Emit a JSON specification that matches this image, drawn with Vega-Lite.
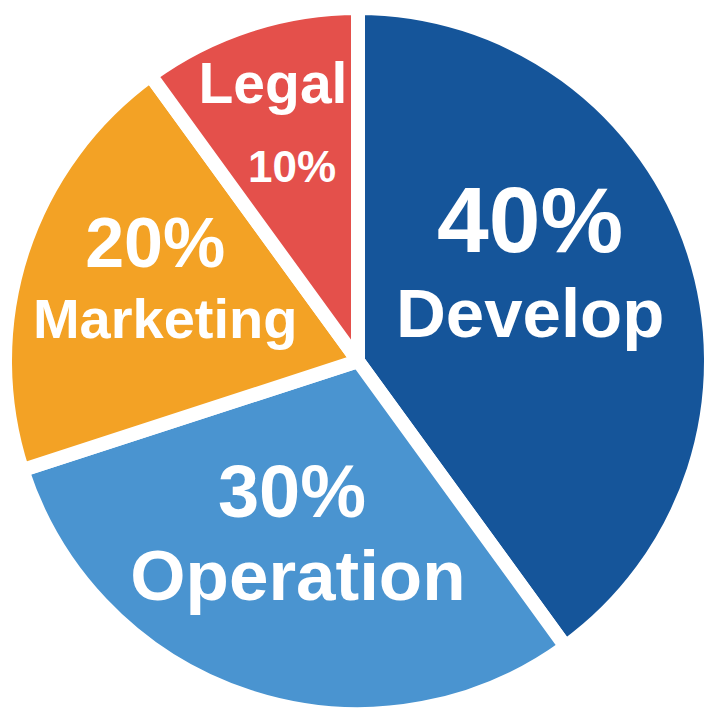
{
  "$schema": "https://vega.github.io/schema/vega-lite/v6.json",
  "width": 720,
  "height": 720,
  "autosize": {"type": "fit", "contains": "padding"},
  "padding": {"left": 3, "right": 7, "top": 6, "bottom": 4},
  "background": "white",
  "view": {"stroke": null},
  "data": {
    "values": [
      {"category": "Develop", "value": 40, "label": "40%"},
      {"category": "Operation", "value": 30, "label": "30%"},
      {"category": "Marketing", "value": 20, "label": "20%"},
      {"category": "Legal", "value": 10, "label": "10%"}
    ]
  },
  "encoding": {
    "theta": {"field": "value", "type": "quantitative", "stack": true},
    "order": {"field": "value", "type": "quantitative", "sort": "descending"}
  },
  "layer": [
    {
      "mark": {"type": "arc", "outerRadius": 353, "stroke": "white", "strokeWidth": 14, "strokeJoin": "round"},
      "encoding": {
        "color": {
          "field": "category",
          "type": "nominal",
          "scale": {"domain": ["Develop", "Operation", "Marketing", "Legal"], "range": ["#15559a", "#4a94d0", "#f3a225", "#e4504b"]},
          "legend": null
        }
      }
    },
    {
      "mark": {"type": "text", "radius": 181, "dx": 0, "dy": -53, "fontSize": 93, "font": "Liberation Sans", "fontWeight": "bold", "fill": "white", "align": "center", "baseline": "alphabetic"},
      "encoding": {
        "detail": {"field": "category", "type": "nominal"},
        "text": {"condition": {"test": "datum.category === 'Develop'", "field": "label"}, "value": ""}
      }
    },
    {
      "mark": {"type": "text", "radius": 181, "dx": 0, "dy": 32, "fontSize": 69, "font": "Liberation Sans", "fontWeight": "bold", "fill": "white", "align": "center", "baseline": "alphabetic"},
      "encoding": {
        "detail": {"field": "category", "type": "nominal"},
        "text": {"condition": {"test": "datum.category === 'Develop'", "field": "category"}, "value": ""}
      }
    },
    {
      "mark": {"type": "text", "radius": 204, "dx": -3, "dy": -38, "fontSize": 74, "font": "Liberation Sans", "fontWeight": "bold", "fill": "white", "align": "center", "baseline": "alphabetic"},
      "encoding": {
        "detail": {"field": "category", "type": "nominal"},
        "text": {"condition": {"test": "datum.category === 'Operation'", "field": "label"}, "value": ""}
      }
    },
    {
      "mark": {"type": "text", "radius": 204, "dx": 3, "dy": 45, "fontSize": 71, "font": "Liberation Sans", "fontWeight": "bold", "fill": "white", "align": "center", "baseline": "alphabetic"},
      "encoding": {
        "detail": {"field": "category", "type": "nominal"},
        "text": {"condition": {"test": "datum.category === 'Operation'", "field": "category"}, "value": ""}
      }
    },
    {
      "mark": {"type": "text", "radius": 208, "dx": -5, "dy": -30, "fontSize": 70, "font": "Liberation Sans", "fontWeight": "bold", "fill": "white", "align": "center", "baseline": "alphabetic"},
      "encoding": {
        "detail": {"field": "category", "type": "nominal"},
        "text": {"condition": {"test": "datum.category === 'Marketing'", "field": "label"}, "value": ""}
      }
    },
    {
      "mark": {"type": "text", "radius": 208, "dx": 5, "dy": 41, "fontSize": 56, "font": "Liberation Sans", "fontWeight": "bold", "fill": "white", "align": "center", "baseline": "alphabetic"},
      "encoding": {
        "detail": {"field": "category", "type": "nominal"},
        "text": {"condition": {"test": "datum.category === 'Marketing'", "field": "category"}, "value": ""}
      }
    },
    {
      "mark": {"type": "text", "radius": 246, "dx": -9, "dy": -24, "fontSize": 57, "font": "Liberation Sans", "fontWeight": "bold", "fill": "white", "align": "center", "baseline": "alphabetic"},
      "encoding": {
        "detail": {"field": "category", "type": "nominal"},
        "text": {"condition": {"test": "datum.category === 'Legal'", "field": "category"}, "value": ""}
      }
    },
    {
      "mark": {"type": "text", "radius": 246, "dx": 10, "dy": 55, "fontSize": 44, "font": "Liberation Sans", "fontWeight": "bold", "fill": "white", "align": "center", "baseline": "alphabetic"},
      "encoding": {
        "detail": {"field": "category", "type": "nominal"},
        "text": {"condition": {"test": "datum.category === 'Legal'", "field": "label"}, "value": ""}
      }
    }
  ]
}
